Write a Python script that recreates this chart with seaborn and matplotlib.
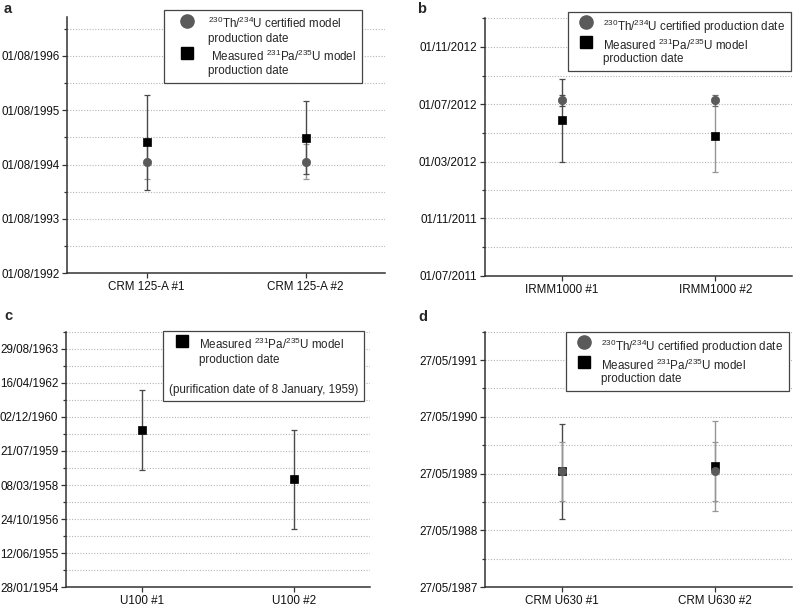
import numpy as np
import pandas as pd
import matplotlib
matplotlib.use("Agg")
import matplotlib.pyplot as plt
import matplotlib.dates as mdates
from matplotlib.lines import Line2D
import seaborn as sns

# ---------------- data ----------------
# panel a
a_samples = ["CRM 125-A #1", "CRM 125-A #2"]
a_th_dates = ["1994-08-19", "1994-08-19"]
a_th_err_days = [117, 117]
a_pa_dates = ["1994-12-29", "1995-01-29"]
a_pa_err_days = [319, 244]
a_ticks = ["1992-08-01", "1993-08-01", "1994-08-01", "1995-08-01", "1996-08-01"]
a_ylim = ["1992-08-01", "1997-04-20"]

# panel b
b_samples = ["IRMM1000 #1", "IRMM1000 #2"]
b_th_dates = ["2012-07-10", "2012-07-10"]
b_th_err_days = [12, 12]
b_pa_dates = ["2012-05-28", "2012-04-25"]
b_pa_err_days = [88, 77]
b_ticks = ["2011-07-01", "2011-11-01", "2012-03-01", "2012-07-01", "2012-11-01"]
b_ylim = ["2011-07-01", "2012-12-11"]

# panel c
c_samples = ["U100 #1", "U100 #2"]
c_pa_dates = ["1960-05-26", "1958-05-29"]
c_pa_err_days = [586, 731]
c_ticks = ["1954-01-28", "1955-06-12", "1956-10-24", "1958-03-08",
           "1959-07-21", "1960-12-02", "1962-04-16", "1963-08-29"]
c_ylim = ["1954-01-28", "1963-11-15"]

# panel d
d_samples = ["CRM U630 #1", "CRM U630 #2"]
d_th_dates = ["1989-06-10", "1989-06-10"]
d_th_err_days = [191, 191]
d_pa_dates = ["1989-06-10", "1989-07-17"]
d_pa_err_days = [304, 290]
d_ticks = ["1987-05-27", "1988-05-27", "1989-05-27", "1990-05-27", "1991-05-27"]
d_ylim = ["1987-05-27", "1991-07-24"]

lab_th_model = "$^{230}$Th/$^{234}$U certified model\nproduction date"
lab_th_prod = "$^{230}$Th/$^{234}$U certified production date"
lab_pa_a = " Measured $^{231}$Pa/$^{235}$U model\nproduction date"
lab_pa = "Measured $^{231}$Pa/$^{235}$U model\nproduction date"
lab_purif = "(purification date of 8 January, 1959)"

# ---------------- style ----------------
sns.set_theme(style="white")
plt.rcParams['font.family'] = ['Liberation Sans', 'DejaVu Sans']
plt.rcParams['mathtext.fontset'] = 'custom'
plt.rcParams['mathtext.rm'] = 'Liberation Sans'
plt.rcParams['mathtext.it'] = 'Liberation Sans'
plt.rcParams['mathtext.bf'] = 'Liberation Sans:bold'

FS = 8.4
C_CIRC = "#5a5a5a"
C_SQ = "#000000"
DARK_ERR = "#4a4a4a"
LIGHT_ERR = "#969696"
SPINE = "#333333"

fig = plt.figure(figsize=(7.93, 6.08), dpi=100)
W, H = 793.0, 608.0


def add_axes(l, r, t, b):
    return fig.add_axes([l / W, 1 - b / H, (r - l) / W, (b - t) / H])


def to_num(dates):
    return mdates.date2num(pd.to_datetime(dates))


def setup(ax, samples, ticks, ylim):
    maj = to_num(ticks)
    step = np.diff(maj).mean()
    mnr = np.append(maj[:-1] + np.diff(maj) / 2, maj[-1] + step / 2)
    ax.set_ylim(*to_num(ylim))
    ax.set_yticks(maj)
    ax.set_yticks(mnr, minor=True)
    ax.yaxis.set_major_formatter(mdates.DateFormatter('%d/%m/%Y'))
    ax.set_xlim(-0.5, 1.5)
    ax.set_xticks(range(len(samples)))
    ax.set_xticklabels(samples)
    ax.grid(axis='y', which='both', linestyle=(0, (1, 1.5)), color='#b5b5b5', lw=0.8)
    ax.grid(axis='x', visible=False)
    for s in ['top', 'right']:
        ax.spines[s].set_visible(False)
    for s in ['left', 'bottom']:
        ax.spines[s].set_color(SPINE)
        ax.spines[s].set_linewidth(1.1)
    ax.tick_params(axis='both', which='major', direction='out', length=3.5,
                   width=0.9, color=SPINE, labelsize=FS, labelcolor='#111111', pad=2,
                   left=True, bottom=True)
    ax.tick_params(axis='y', which='minor', direction='out', length=2.5,
                   width=0.9, color=SPINE, left=True)
    ax.set_xlabel("")
    ax.set_ylabel("")


def draw_series(ax, samples, dates, errs, marker, color, ecolors, ms):
    x = np.arange(len(samples))
    y = to_num(dates)
    e = np.asarray(errs, dtype=float)
    for xi, yi, ei, ec in zip(x, y, e, ecolors):
        ax.errorbar([xi], [yi], yerr=[ei], fmt='none', ecolor=ec, elinewidth=1.0,
                    capsize=2.5, capthick=0.9, zorder=3)
    df = pd.DataFrame({"x": x, "y": y})
    sns.scatterplot(data=df, x="x", y="y", ax=ax, marker=marker, color=color,
                    s=ms, edgecolor=color, linewidth=0.5, zorder=4, legend=False)


def handles(kinds):
    out = []
    for k in kinds:
        if k == 'o':
            out.append(Line2D([], [], marker='o', ls='none', color=C_CIRC, ms=9.5, mec=C_CIRC))
        else:
            out.append(Line2D([], [], marker='s', ls='none', color=C_SQ, ms=8, mec=C_SQ))
    return out


def legend(ax, hs, labels, x, y, hl=2.2, ls=0.3, lsp=1.2, **kw):
    leg = ax.legend(hs, labels, loc='upper left', bbox_to_anchor=(x / W, 1 - y / H),
                    bbox_transform=fig.transFigure, borderaxespad=0, frameon=True,
                    fancybox=False, framealpha=1, edgecolor='#444444', fontsize=FS,
                    borderpad=0.5, labelspacing=ls, handletextpad=0.3,
                    handlelength=hl, handleheight=1.1, **kw)
    leg.get_frame().set_linewidth(0.9)
    leg.set_zorder(10)
    for t in leg.get_texts():
        t.set_linespacing(lsp)
    for col in leg._legend_handle_box.get_children():
        for row in col.get_children():
            row.align = 'top'
    return leg


# ---------------- panel a ----------------
ax = add_axes(67, 385, 17, 273)
draw_series(ax, a_samples, a_th_dates, a_th_err_days, 'o', C_CIRC, [LIGHT_ERR, LIGHT_ERR], 36)
draw_series(ax, a_samples, a_pa_dates, a_pa_err_days, 's', C_SQ, [DARK_ERR, DARK_ERR], 28)
setup(ax, a_samples, a_ticks, a_ylim)
legend(ax, handles(['o', 's']), [lab_th_model, lab_pa_a], 164, 10, hl=3.0)

# ---------------- panel b ----------------
ax = add_axes(485, 792, 18, 276)
draw_series(ax, b_samples, b_pa_dates, b_pa_err_days, 's', C_SQ, [DARK_ERR, LIGHT_ERR], 28)
draw_series(ax, b_samples, b_th_dates, b_th_err_days, 'o', C_CIRC, [DARK_ERR, "#6a6a6a"], 36)
setup(ax, b_samples, b_ticks, b_ylim)
legend(ax, handles(['o', 's']), [lab_th_prod, lab_pa], 567.7, 11.7, ls=0.15, lsp=1.05)

# ---------------- panel c ----------------
ax = add_axes(66, 370, 331.7, 587.3)
draw_series(ax, c_samples, c_pa_dates, c_pa_err_days, 's', C_SQ, [DARK_ERR, DARK_ERR], 28)
setup(ax, c_samples, c_ticks, c_ylim)
leg = legend(ax, handles(['s']), [lab_pa], 162.7, 330.7, hl=2.3,
             title=lab_purif, title_fontsize=FS, alignment='left')
box = leg._legend_box
box._children = box._children[::-1]
box.sep = 13

# ---------------- panel d ----------------
ax = add_axes(485, 792, 331.7, 587.3)
draw_series(ax, d_samples, d_pa_dates, d_pa_err_days, 's', C_SQ, [DARK_ERR, LIGHT_ERR], 28)
draw_series(ax, d_samples, d_th_dates, d_th_err_days, 'o', C_CIRC, [LIGHT_ERR, LIGHT_ERR], 36)
setup(ax, d_samples, d_ticks, d_ylim)
legend(ax, handles(['o', 's']), [lab_th_prod, lab_pa], 565.7, 331.7, ls=0.15, lsp=1.05)

# panel letters
for letter, (x, y) in zip("abcd", [(4, 2), (417, 2), (4, 309), (418, 310)]):
    fig.text(x / W, 1 - y / H, letter, fontsize=10.5, fontweight='bold',
             va='top', ha='left', family='Liberation Sans')

fig.savefig("out.png", dpi=100)
